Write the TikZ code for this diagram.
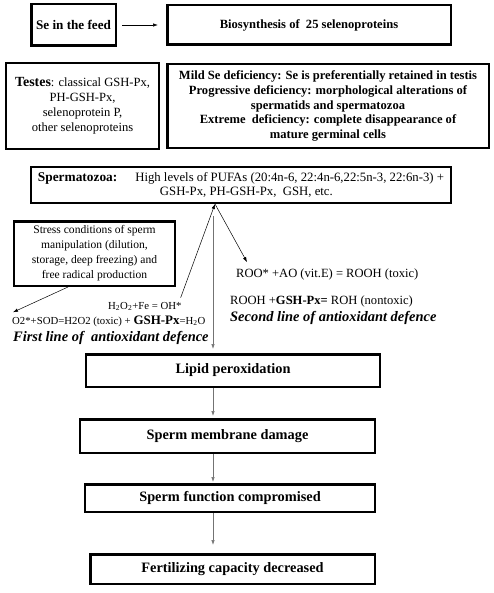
\documentclass[tikz,border=0pt]{standalone}
\usepackage{fontspec}
\setmainfont{Liberation Serif}
\usetikzlibrary{arrows.meta,positioning,calc}
\tikzset{
    bx/.style={
        rectangle,
        fill=white,
        draw=black,
        line width=2.5bp,
        align=center,
        inner sep=0pt,
        font=\fontsize{12.6}{15}\selectfont
        },
    bxb/.style={ %bold box
        bx,
        font=\fontsize{14.4}{16}\selectfont\bfseries
        },
    txt/.style={ %free text
        anchor=base west,
        inner sep=0pt,
        font=\fontsize{12.6}{14}\selectfont
        },
    txtsm/.style={ %smaller free text
        txt,
        font=\fontsize{10.8}{12}\selectfont
        },
    txtbi/.style={ %line of defence
        txt,
        font=\fontsize{14.5}{15}\selectfont\bfseries\itshape
        },
    arrout/.style={
        -{Latex[length=5bp,width=3.5bp]},
        line width=0.7bp
        },
    arrg/.style={ %grey vertical
        arrout,
        draw=black!55
        }
}

\begin{document}
\begin{tikzpicture}[x=1bp,y=-1bp]
    \useasboundingbox (0,0) rectangle (494,593);

    %%%%% top row
    \node[bx,font=\fontsize{13.2}{15}\selectfont\bfseries,minimum width=84.5bp,minimum height=41.5bp] (feed) at (73.5,25) {Se in the feed};
    \node[bx,font=\fontsize{12.6}{15}\selectfont\bfseries,minimum width=283.5bp,minimum height=39.5bp] (bio) at (309,25) {Biosynthesis of~ 25 selenoproteins};
    \draw[arrout,shorten <=5bp,shorten >=8bp] (feed) -- (bio);

    %%%%% second row
    \node[bx,minimum width=152.5bp,minimum height=85.5bp] (testes) at (82.5,106) {
        {\fontsize{14}{15}\selectfont\textbf{Testes}}: classical GSH-Px,\\
        PH-GSH-Px,\\
        selenoprotein P,\\
        other selenoproteins};
    \node[bx,font=\fontsize{12.6}{15}\selectfont\bfseries,minimum width=321.5bp,minimum height=83.5bp] (mild) at (328,106) {
        Mild Se deficiency: Se is preferentially retained in testis\\
        Progressive deficiency: morphological alterations of\\
        spermatids and spermatozoa\\
        Extreme~ deficiency: complete disappearance of\\
        mature germinal cells};

    %%%%% spermatozoa
    \node[bx,align=left,font=\fontsize{12.8}{14.5}\selectfont,minimum width=419.5bp,minimum height=35.5bp] (spz) at (241,185) {
        {\fontsize{13.4}{14.5}\selectfont\textbf{Spermatozoa:}}\hspace{18bp}High levels of PUFAs (20:4n-6, 22:4n-6,22:5n-3, 22:6n-3) +\\
        \hspace*{122bp}GSH-Px, PH-GSH-Px,~ GSH, etc.};
    \coordinate (hub) at ([xshift=-26bp]spz.south);
    \coordinate (vtop) at (213,216);

    %%%%% stress
    \node[bx,font=\fontsize{11.6}{15}\selectfont,minimum width=160.5bp,minimum height=64.5bp] (stress) at (94.5,253.5) {
        Stress conditions of sperm\\
        manipulation (dilution,\\
        storage, deep freezing) and\\
        free radical production};

    %%%%% first line of defence
    \node[txtsm] (h2o2) at (108,309) {H\textsubscript{2}O\textsubscript{2}+Fe = OH*};
    \node[txtsm] (eqa) at (12,324) {O2*+SOD=H2O2 (toxic) + {\fontsize{13}{12}\selectfont\textbf{GSH-Px}}=H\textsubscript{2}O};
    \node[txtbi] (first) at (13,341) {First line of~ antioxidant defence};

    %%%%% second line of defence
    \node[txt] (roo) at (236,277) {ROO* +AO (vit.E) = ROOH (toxic)};
    \node[txt] (rooh) at (230,304) {ROOH +\textbf{GSH-Px=} ROH (nontoxic)};
    \node[txtbi] (second) at (230,321) {Second line of antioxidant defence};

    %%%%% connectors round spermatozoa
    \draw[arrout,line width=0.5bp] ([xshift=55bp]stress.south west) -- ([xshift=1bp,yshift=3bp]eqa.north west);
    \draw[arrout,line width=0.5bp] ([xshift=-1bp,yshift=4bp]h2o2.north east) -- (hub);
    \draw[arrout,line width=0.5bp] (hub) -- ([xshift=11bp,yshift=6bp]roo.north west);

    %%%%% lower chain
    \node[bxb,minimum width=293.5bp,minimum height=32.5bp] (lipid) at (233,370.5) {Lipid peroxidation};
    \node[bxb,minimum width=294.5bp,minimum height=33.5bp] (membrane) at (227.5,436) {Sperm membrane damage};
    \node[bxb,minimum width=289.5bp,minimum height=27.5bp] (function) at (230,498) {Sperm function compromised};
    \node[bxb,minimum width=284.5bp,minimum height=29.5bp] (fert) at (232.5,569) {Fertilizing capacity decreased};

    \draw[arrg,shorten >=4bp] (vtop) -- (vtop |- lipid.north);
    \draw[arrg,shorten >=2bp] (vtop |- lipid.south) -- (vtop |- membrane.north);
    \draw[arrg,shorten >=1bp] (vtop |- membrane.south) -- (vtop |- function.north);
    \draw[arrg,shorten >=8bp] (vtop |- function.south) -- (vtop |- fert.north);
\end{tikzpicture}
\end{document}
